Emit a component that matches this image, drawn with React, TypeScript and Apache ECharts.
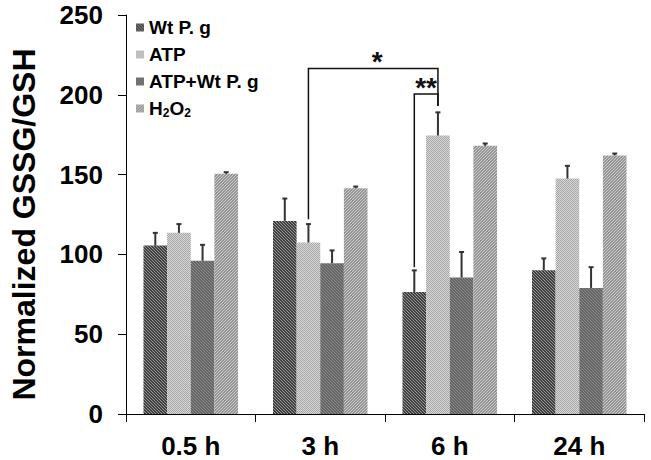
import React, { useEffect, useRef } from 'react';
import * as echarts from 'echarts';

const categories = ['0.5 h', '3 h', '6 h', '24 h'];
const seriesNames = ['Wt P. g', 'ATP', 'ATP+Wt P. g', 'H2O2'];
const wtPg = [105.5, 121, 76.5, 90];
const wtPgErr = [8, 14, 13.5, 7.5];
const atp = [113.5, 107.5, 174.5, 147.5];
const atpErr = [5.5, 11.5, 14.5, 8];
const atpWtPg = [96, 94.5, 85.5, 79];
const atpWtPgErr = [10, 8, 16, 13];
const h2o2 = [150.5, 141.5, 168, 162];
const h2o2Err = [1, 1, 1.5, 1.2];
const yTicks = [0, 50, 100, 150, 200, 250];

// significance brackets: [leftCat, leftSeries, leftBottom, rightCat, rightSeries, rightBottom, top]
const brackets = [
  [1, 1, 122, 2, 1, 193, 216.5],
  [2, 0, 92, 2, 1, 193, 200.5],
];
const bracketLabels = ['*', '**'];

const FONT = "'Liberation Sans', Arial, sans-serif";
const CAT_GAP = 0.27;

function makePattern(base: string, line: string, kind: string, period: number) {
  const size = kind === 'dots' ? 2 : period;
  const c = document.createElement('canvas');
  c.width = size;
  c.height = size;
  const ctx = c.getContext('2d')!;
  ctx.fillStyle = base;
  ctx.fillRect(0, 0, size, size);
  ctx.fillStyle = line;
  for (let x = 0; x < size; x++) {
    for (let y = 0; y < size; y++) {
      let on = false;
      if (kind === 'back') on = (x - y + size) % size === 0;
      else if (kind === 'fwd') on = (x + y) % size === size - 1;
      else on = (x + y) % 2 === 0;
      if (on) ctx.fillRect(x, y, 1, 1);
    }
  }
  return { image: c, repeat: 'repeat', imageWidth: size, imageHeight: size } as any;
}

export default function App() {
  const ref = useRef<HTMLDivElement>(null);
  useEffect(() => {
    document.body.style.margin = '0';
    const chart = echarts.init(ref.current!, null, { renderer: 'svg' });
    const values = [wtPg, atp, atpWtPg, h2o2];
    const errs = [wtPgErr, atpErr, atpWtPgErr, h2o2Err];
    const patterns = [
      makePattern('#3e3e3e', '#9a9a9a', 'back', 3),
      makePattern('#d8d8d8', '#a6a6a6', 'dots', 2),
      makePattern('#646464', '#8c8c8c', 'back', 3),
      makePattern('#959595', '#cdcdcd', 'fwd', 3),
    ];
    const errData: number[][] = [];
    values.forEach((arr, s) => arr.forEach((v, c) => errData.push([c, s, v, errs[s][c]])));

    const barX = (api: any, cat: number, s: number, v: number) => {
      const p = api.coord([cat, v]);
      const bw = (api.size([1, 0])[0] * (1 - CAT_GAP)) / 4;
      return [p[0] + (s - 1.5) * bw, p[1]];
    };

    const option: any = {
      animation: false,
      grid: { left: 122, right: 7, top: 15, bottom: 46 },
      legend: {
        orient: 'vertical',
        left: 136,
        top: 18,
        padding: 0,
        itemGap: 8,
        itemWidth: 8,
        itemHeight: 8,
        icon: 'rect',
        data: seriesNames,
        formatter: (name: string) => (name === 'H2O2' ? '{n|H}{s|2}{n|O}{s|2}' : name),
        textStyle: {
          fontFamily: FONT,
          fontSize: 19,
          fontWeight: 'bold',
          color: '#000',
          padding: [0, 0, 0, 0],
          rich: {
            n: { fontFamily: FONT, fontSize: 19, fontWeight: 'bold', color: '#000' },
            s: { fontFamily: FONT, fontSize: 12, fontWeight: 'bold', color: '#000', padding: [9, 0, 0, 0] },
          },
        },
      },
      xAxis: {
        type: 'category',
        data: categories,
        axisLine: { lineStyle: { color: '#000', width: 1 } },
        axisTick: { show: true, length: 8, lineStyle: { color: '#000' } },
        axisLabel: { fontFamily: FONT, fontSize: 26, fontWeight: 'bold', color: '#000', margin: 19 },
      },
      yAxis: {
        type: 'value',
        min: 0,
        max: 250,
        interval: 50,
        name: 'Normalized GSSG/GSH',
        nameLocation: 'middle',
        nameGap: 86,
        nameRotate: 90,
        nameTextStyle: {
          fontFamily: FONT,
          fontSize: 32,
          fontWeight: 'bold',
          color: '#000',
          padding: [0, 20, 0, 0],
        },
        axisLine: { show: true, lineStyle: { color: '#000', width: 1 } },
        axisTick: { show: true, length: 8, lineStyle: { color: '#000' } },
        splitLine: { show: false },
        axisLabel: {
          fontFamily: FONT,
          fontSize: 26,
          fontWeight: 'bold',
          color: '#000',
          margin: 23,
          formatter: (v: number) => (yTicks.includes(v) ? String(v) : ''),
        },
      },
      series: [
        ...values.map((arr, s) => ({
          type: 'bar',
          name: seriesNames[s],
          data: arr,
          barGap: '0%',
          barCategoryGap: CAT_GAP * 100 + '%',
          itemStyle: { color: patterns[s] },
        })),
        {
          type: 'custom',
          name: 'err',
          data: errData,
          z: 5,
          renderItem: (params: any, api: any) => {
            const c = api.value(0), s = api.value(1), v = api.value(2), e = api.value(3);
            const [x, y0] = barX(api, c, s, v);
            const y1 = api.coord([c, v + e])[1];
            return {
              type: 'group',
              children: [
                { type: 'line', shape: { x1: x, y1: y0, x2: x, y2: y1 }, style: { stroke: '#333', lineWidth: 2 } },
                { type: 'line', shape: { x1: x - 2.5, y1: y1, x2: x + 2.5, y2: y1 }, style: { stroke: '#333', lineWidth: 2 } },
              ],
            };
          },
        },
        {
          type: 'custom',
          name: 'sig',
          data: brackets,
          z: 6,
          renderItem: (params: any, api: any) => {
            const [lx, lb] = barX(api, api.value(0), api.value(1), api.value(2));
            const [rx, rb] = barX(api, api.value(3), api.value(4), api.value(5));
            const top = api.coord([0, api.value(6)])[1];
            return {
              type: 'group',
              children: [
                {
                  type: 'polyline',
                  shape: { points: [[lx, lb], [lx, top], [rx, top], [rx, rb]] },
                  style: { stroke: '#111', lineWidth: 1.5, fill: 'none' },
                },
                {
                  type: 'text',
                  x: (lx + rx) / 2 + (params.dataIndex === 0 ? 4 : 0),
                  y: top - 7,
                  style: {
                    text: bracketLabels[params.dataIndex],
                    fontFamily: FONT,
                    fontSize: 28,
                    fontWeight: 'bold',
                    fill: '#111',
                    align: 'center',
                    verticalAlign: 'middle',
                  },
                },
              ],
            };
          },
        },
      ],
    };
    chart.setOption(option);
    return () => chart.dispose();
  }, []);
  return <div ref={ref} style={{ width: 651, height: 460 }} />;
}
